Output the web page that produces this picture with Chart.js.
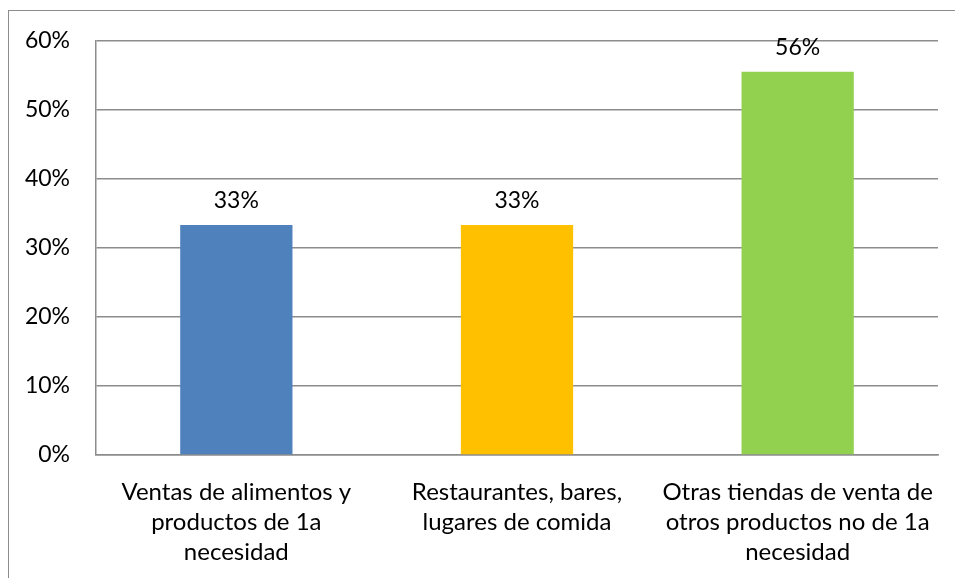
<!DOCTYPE html>
<html>
<head>
<meta charset="utf-8">
<script src="https://cdn.jsdelivr.net/npm/chart.js@4/dist/chart.umd.min.js"></script>
<style>
  html, body { margin: 0; padding: 0; background: #fff; }
  .wrap { position: relative; width: 955px; height: 578px; overflow: hidden; }
  .frame { position: absolute; left: 8px; top: 10px; width: 1000px; height: 1000px;
           border: 1.5px solid #8c8c8c; box-sizing: border-box; }
  canvas { position: absolute; left: 0; top: 0; }
</style>
</head>
<body>
<div class="wrap">
  <div class="frame"></div>
  <canvas id="c" width="955" height="578"></canvas>
</div>
<script>
// Parts de commerces (en %)
const categories = [
  ["Ventas de alimentos y", "productos de 1a", "necesidad"],
  ["Restaurantes, bares,", "lugares de comida"],
  ["Otras tiendas de venta de", "otros productos no de 1a", "necesidad"],
];
const valeurs = [33.33, 33.33, 55.56];
const couleurs = ["#4f81bd", "#ffc000", "#92d050"];
const yTicks = [0, 10, 20, 30, 40, 50, 60];

const police = "Lato, 'Open Sans', sans-serif";

// étiquettes au-dessus des barres
const etiquettes = {
  id: "etiquettes",
  afterDatasetsDraw(chart) {
    const { ctx } = chart;
    const meta = chart.getDatasetMeta(0);
    ctx.save();
    ctx.font = `23px ${police}`;
    ctx.fillStyle = "#000";
    ctx.textAlign = "center";
    ctx.textBaseline = "alphabetic";
    meta.data.forEach((bar, i) => {
      ctx.fillText(Math.round(valeurs[i]) + "%", bar.x, bar.y - 17);
    });
    ctx.restore();
  },
};

new Chart(document.getElementById("c"), {
  type: "bar",
  data: {
    labels: categories,
    datasets: [{
      data: valeurs,
      backgroundColor: couleurs,
      barPercentage: 0.4,
      categoryPercentage: 1,
    }],
  },
  options: {
    responsive: false,
    animation: false,
    devicePixelRatio: 1,
    layout: { padding: { left: 0, top: 41, right: 17, bottom: 0 } },
    plugins: { legend: { display: false }, tooltip: { enabled: false } },
    scales: {
      x: {
        grid: { display: false, drawTicks: false },
        border: { display: true, color: "#8c8c8c", width: 1.5 },
        ticks: { color: "#000", font: { family: police, size: 24, lineHeight: 1.25 }, padding: 22, maxRotation: 0, autoSkip: false },
        afterFit: (s) => { s.height = 578 - 455; s.paddingLeft = 0; s.paddingRight = 0; },
      },
      y: {
        min: 0,
        max: 60,
        afterBuildTicks: (s) => { s.ticks = yTicks.map((v) => ({ value: v })); },
        grid: { color: "#8c8c8c", lineWidth: 1.5, drawTicks: false },
        border: { display: true, color: "#8c8c8c", width: 1.5 },
        ticks: { color: "#000", font: { family: police, size: 23 }, padding: 26, callback: (v) => v + "%" },
        afterFit: (s) => { s.width = 96; },
      },
    },
  },
  plugins: [etiquettes],
});
</script>
</body>
</html>
